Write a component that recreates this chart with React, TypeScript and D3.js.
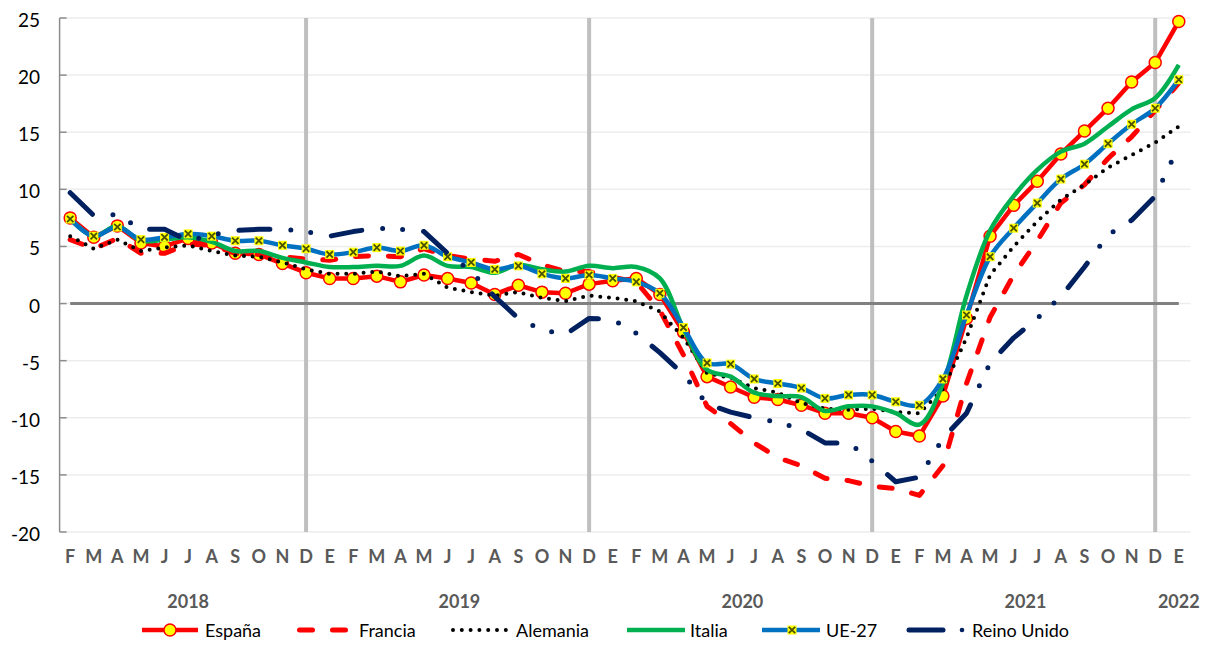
import React from "react";
import * as d3 from "d3";

// Month initials from Feb 2018 to Jan 2022
const MONTHS = [
  "F", "M", "A", "M", "J", "J", "A", "S", "O", "N", "D",
  "E", "F", "M", "A", "M", "J", "J", "A", "S", "O", "N", "D",
  "E", "F", "M", "A", "M", "J", "J", "A", "S", "O", "N", "D",
  "E", "F", "M", "A", "M", "J", "J", "A", "S", "O", "N", "D",
  "E",
];
const YEAR_LABELS = ["2018", "2019", "2020", "2021", "2022"];
const YEAR_FIRST = [0, 11, 23, 35, 47];
const YEAR_LAST = [10, 22, 34, 46, 47];
const Y_TICKS = [25, 20, 15, 10, 5, 0, -5, -10, -15, -20];
const DEC_INDEX = [10, 22, 34, 46];

const ESPANA = [
  7.5, 5.8, 6.8, 5.3, 5.0, 5.7, 5.3, 4.4, 4.3, 3.5, 2.7,
  2.2, 2.2, 2.4, 1.9, 2.5, 2.2, 1.8, 0.8, 1.6, 1.0, 0.9, 1.7,
  2.0, 2.2, 0.8, -2.5, -6.4, -7.3, -8.2, -8.4, -8.9, -9.6, -9.6, -10.0,
  -11.2, -11.6, -8.1, -1.3, 5.9, 8.6, 10.7, 13.1, 15.1, 17.1, 19.4, 21.1,
  24.7,
];
const FRANCIA = [
  5.6, 4.8, 5.7, 4.4, 4.4, 5.2, 5.1, 4.4, 4.3, 4.1, 3.9,
  3.8, 4.1, 4.2, 4.1, 4.8, 4.2, 3.9, 3.7, 4.3, 3.4, 2.8, 2.8,
  2.3, 1.9, -0.6, -4.5, -9.0, -10.5, -12.2, -13.5, -14.2, -15.3, -15.5, -16.0,
  -16.2, -16.8, -14.2, -7.0, -1.2, 2.5, 5.5, 8.8, 10.4, 12.7, 14.6, 16.9,
  19.3,
];
const ALEMANIA = [
  5.9, 4.8, 5.6, 4.6, 4.9, 5.1, 4.6, 4.2, 4.1, 3.6, 3.0,
  2.6, 2.6, 2.8, 2.4, 2.6, 1.4, 1.0, 0.7, 1.0, 0.5, 0.2, 0.7,
  0.5, 0.2, -0.7, -3.0, -6.1, -6.5, -7.4, -7.8, -8.7, -9.2, -9.3, -9.2,
  -9.5, -9.6, -7.5, -3.0, 2.5, 5.0, 7.2, 9.1, 10.4, 11.9, 13.0, 14.1,
  15.5,
];
const ITALIA = [
  7.4, 5.9, 6.8, 5.5, 5.6, 5.8, 5.4, 4.6, 4.6, 4.0, 3.6,
  3.2, 3.2, 3.3, 3.3, 4.2, 3.3, 3.2, 2.7, 3.4, 3.0, 2.8, 3.3,
  3.1, 3.2, 2.2, -2.2, -5.8, -6.4, -7.8, -8.1, -8.2, -9.4, -9.0, -9.0,
  -9.6, -10.6, -7.0, 0.7, 6.4, 9.4, 11.7, 13.3, 14.0, 15.5, 17.0, 18.0,
  20.9,
];
const UE27 = [
  7.4, 5.9, 6.7, 5.6, 5.8, 6.1, 5.9, 5.5, 5.5, 5.1, 4.8,
  4.3, 4.5, 4.9, 4.6, 5.1, 4.1, 3.6, 3.0, 3.3, 2.6, 2.2, 2.5,
  2.2, 1.9, 0.9, -2.1, -5.2, -5.3, -6.6, -7.0, -7.4, -8.3, -8.0, -8.0,
  -8.6, -8.9, -6.6, -1.0, 4.1, 6.6, 8.8, 10.9, 12.2, 14.0, 15.7, 17.1,
  19.6,
];
const REINO_UNIDO = [
  9.7, 7.7, 7.8, 6.5, 6.5, 5.5, 6.0, 6.4, 6.5, 6.5, 6.3,
  5.9, 6.3, 6.6, 6.5, 6.3, 4.4, 2.8, 0.6, -1.3, -2.3, -2.7, -1.3,
  -1.4, -2.6, -4.3, -6.2, -8.8, -9.5, -10.0, -10.4, -11.0, -12.2, -12.2, -13.8,
  -15.6, -15.2, -11.8, -9.6, -5.2, -3.0, -1.3, 0.6, 3.2, 6.0, 7.3, 9.4,
  13.8,
];

const FONT = "Lato, 'Open Sans', sans-serif";
const RED = "#ff0000";
const GREEN = "#00b050";
const BLUE = "#0070c0";
const NAVY = "#002060";
const YELLOW = "#ffff00";

function XMarker({ cx, cy }: { cx: number; cy: number }) {
  return (
    <g>
      <rect x={cx - 4.5} y={cy - 4.5} width={9} height={9} fill={YELLOW} />
      <path
        d={`M${cx - 3.2},${cy - 3.2}L${cx + 3.2},${cy + 3.2}M${cx + 3.2},${cy - 3.2}L${cx - 3.2},${cy + 3.2}`}
        stroke="#4a5200"
        strokeWidth={1.8}
      />
    </g>
  );
}

export default function App() {
  const W = 1210;
  const H = 646;
  const x = d3.scaleLinear().domain([0, 47]).range([70.2, 1178.8]);
  const y = d3.scaleLinear().domain([-20, 25]).range([532, 18]);
  const left = x(-0.5) + 1.2;
  const right = x(47.5);

  const straight = d3
    .line<number>()
    .x((_, i) => x(i))
    .y((d) => y(d));
  const smooth = d3
    .line<number>()
    .x((_, i) => x(i))
    .y((d) => y(d))
    .curve(d3.curveCatmullRom.alpha(0.5));

  const zeroLine = d3.line<number>().x((_, i) => x(i)).y(() => y(0))(MONTHS.map(() => 0));

  const legendY = 630;
  const textY = 637;

  return (
    <div style={{ position: "absolute", left: 0, top: 0, width: W, height: H, background: "#fff" }}>
      <svg width={W} height={H} style={{ display: "block" }} fontFamily={FONT}>
        <rect width={W} height={H} fill="#ffffff" />
        {/* horizontal gridlines */}
        {Y_TICKS.map((t) => (
          <line key={"g" + t} x1={left} x2={right} y1={y(t)} y2={y(t)} stroke="#ededed" strokeWidth={1.5} />
        ))}
        {/* December verticals */}
        {DEC_INDEX.map((i) => (
          <line key={"d" + i} x1={x(i)} x2={x(i)} y1={y(25)} y2={y(-20)} stroke="#bfbfbf" strokeWidth={4} />
        ))}
        {/* y axis */}
        <line x1={left} x2={left} y1={y(25)} y2={y(-20)} stroke="#8c8c8c" strokeWidth={1.5} />
        {Y_TICKS.map((t) => (
          <line key={"t" + t} x1={left} x2={left + 7} y1={y(t)} y2={y(t)} stroke="#8c8c8c" strokeWidth={1.5} />
        ))}
        {Y_TICKS.map((t) => (
          <text key={"l" + t} x={40} y={y(t) + 9} textAnchor="end" fontSize={19} fill="#000">
            {t}
          </text>
        ))}
        {/* zero line */}
        <path d={zeroLine || ""} stroke="#808080" strokeWidth={3} fill="none" />

        {/* España */}
        <path d={straight(ESPANA) || ""} stroke={RED} strokeWidth={4.5} fill="none" strokeLinejoin="round" />
        {ESPANA.map((v, i) => (
          <circle key={"e" + i} cx={x(i)} cy={y(v)} r={6} fill={YELLOW} stroke={RED} strokeWidth={1.5} />
        ))}
        {/* Francia */}
        <path
          d={straight(FRANCIA) || ""}
          stroke={RED}
          strokeWidth={5}
          fill="none"
          strokeDasharray="13 20"
          strokeLinecap="round"
          strokeLinejoin="round"
        />
        {/* Alemania */}
        <path
          d={straight(ALEMANIA) || ""}
          stroke="#000"
          strokeWidth={4}
          fill="none"
          strokeDasharray="0 8.7"
          strokeLinecap="round"
        />
        {/* Italia */}
        <path d={smooth(ITALIA) || ""} stroke={GREEN} strokeWidth={4.5} fill="none" />
        {/* UE-27 */}
        <path d={smooth(UE27) || ""} stroke={BLUE} strokeWidth={4.5} fill="none" />
        {UE27.map((v, i) => (
          <XMarker key={"u" + i} cx={x(i)} cy={y(v)} />
        ))}
        {/* Reino Unido */}
        <path
          d={straight(REINO_UNIDO) || ""}
          stroke={NAVY}
          strokeWidth={5}
          fill="none"
          strokeDasharray="31 21 0 20 0 21"
          strokeLinecap="round"
          strokeLinejoin="round"
        />

        {/* month labels */}
        {MONTHS.map((m, i) => (
          <text key={"m" + i} x={x(i)} y={563} textAnchor="middle" fontSize={18} fontWeight="bold" fill="#595959">
            {m}
          </text>
        ))}
        {YEAR_LABELS.map((yl, k) => (
          <text
            key={"y" + yl}
            x={(x(YEAR_FIRST[k]) + x(YEAR_LAST[k])) / 2}
            y={608}
            textAnchor="middle"
            fontSize={18}
            fontWeight="bold"
            fill="#595959"
          >
            {yl}
          </text>
        ))}

        {/* legend */}
        <g fontSize={18} fill="#000">
          <line x1={142} x2={198} y1={legendY} y2={legendY} stroke={RED} strokeWidth={4.5} />
          <circle cx={170} cy={legendY} r={6} fill={YELLOW} stroke={RED} strokeWidth={1.5} />
          <text x={205} y={textY}>España</text>

          <line x1={297} x2={348} y1={legendY} y2={legendY} stroke={RED} strokeWidth={5} strokeDasharray="13 20" strokeLinecap="round" transform="translate(2.5,0)" />
          <text x={359} y={textY}>Francia</text>

          <line x1={453} x2={506} y1={legendY} y2={legendY} stroke="#000" strokeWidth={4} strokeDasharray="0 8.8" strokeLinecap="round" />
          <text x={516} y={textY}>Alemania</text>

          <line x1={627} x2={685} y1={legendY} y2={legendY} stroke={GREEN} strokeWidth={4.5} />
          <text x={690} y={textY}>Italia</text>

          <line x1={762} x2={820} y1={legendY} y2={legendY} stroke={BLUE} strokeWidth={4.5} />
          <XMarker cx={792} cy={legendY} />
          <text x={826} y={textY}>UE-27</text>

          <line x1={909} x2={943} y1={legendY} y2={legendY} stroke={NAVY} strokeWidth={5} strokeLinecap="round" />
          <circle cx={962} cy={legendY} r={2.3} fill={NAVY} />
          <text x={972} y={textY}>Reino Unido</text>
        </g>
      </svg>
    </div>
  );
}
